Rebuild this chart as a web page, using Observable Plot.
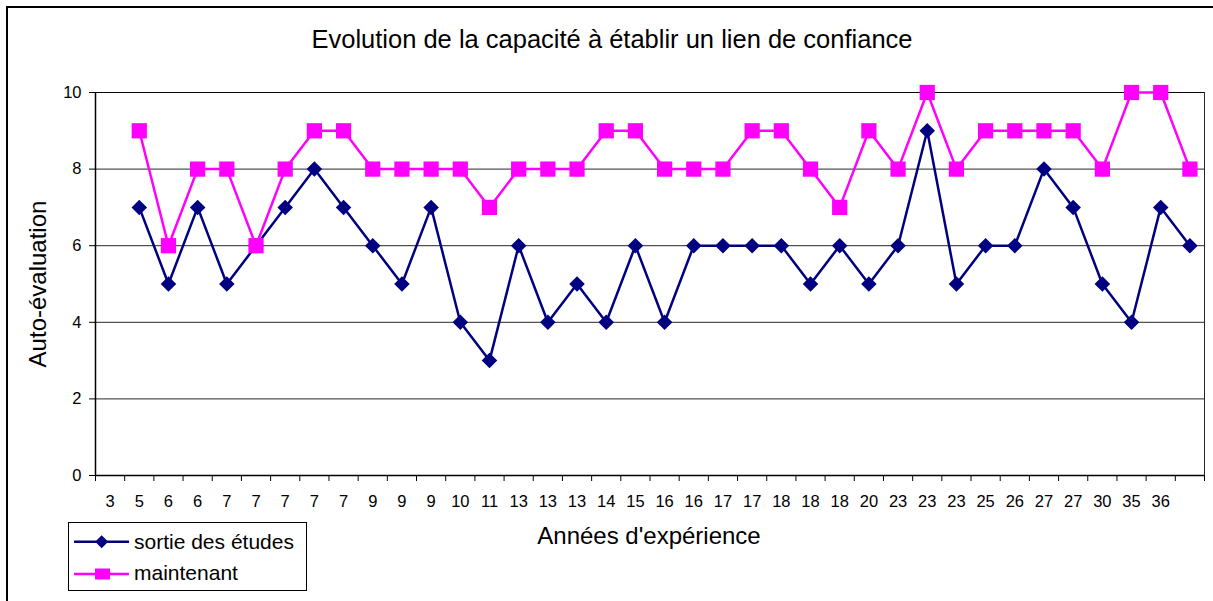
<!DOCTYPE html>
<html>
<head>
<meta charset="utf-8">
<script src="https://cdn.jsdelivr.net/npm/d3@7"></script>
<script src="https://cdn.jsdelivr.net/npm/@observablehq/plot@0.6"></script>
<style>
html, body { margin: 0; padding: 0; background: #fff; overflow: hidden; }
#wrap { position: relative; width: 1213px; height: 601px; font-family: "Liberation Sans", Arial, sans-serif; color: #000; }
#chart { position: absolute; left: 0; top: 0; }
#frame { position: absolute; left: 6px; top: 6px; width: 1220px; height: 610px; border: 2px solid #000; box-sizing: border-box; pointer-events: none; }
#title { position: absolute; left: 0; top: 26.5px; width: 1224px; text-align: center; font-size: 25.5px; line-height: 25.5px; white-space: nowrap; }
#xlabel { position: absolute; left: 0; top: 524px; width: 1298px; text-align: center; font-size: 24px; line-height: 24px; white-space: nowrap; }
#ylabel { position: absolute; left: -112px; top: 271.5px; width: 300px; height: 24px; text-align: center; font-size: 24px; line-height: 24px; white-space: nowrap; transform: rotate(-90deg); }
#legendbox { position: absolute; left: 68px; top: 522px; width: 239px; height: 69px; border: 1px solid #000; box-sizing: border-box; background: #fff; }
.legtxt { position: absolute; left: 134px; font-size: 21px; line-height: 21px; white-space: nowrap; }
#legsvg { position: absolute; left: 0; top: 0; }
</style>
</head>
<body>
<div id="wrap">
  <div id="chart"></div>
  <div id="title">Evolution de la capacité à établir un lien de confiance</div>
  <div id="ylabel">Auto-évaluation</div>
  <div id="xlabel">Années d'expérience</div>
  <div id="legendbox"></div>
  <svg id="legsvg" width="1213" height="601"></svg>
  <div class="legtxt" id="leg1" style="top:530.5px"></div>
  <div class="legtxt" id="leg2" style="top:562.2px"></div>
  <div id="frame"></div>
</div>
<script>
// Category labels (years of experience); the last category has no label
const xLabels = ["3","5","6","6","7","7","7","7","7","9","9","9","10","11","13","13","13","14","15","16","16","17","17","18","18","18","20","23","23","23","25","26","27","27","30","35","36",""];
// Series values per category (first category empty)
const sortie = [null,7,5,7,5,6,7,8,7,6,5,7,4,3,6,4,5,4,6,4,6,6,6,6,5,6,5,6,9,5,6,6,8,7,5,4,7,6];
const maintenant = [null,9,6,8,8,6,8,9,9,8,8,8,8,7,8,8,8,9,9,8,8,8,9,9,8,7,9,8,10,8,9,9,9,9,8,10,10,8];
const seriesNames = ["sortie des études", "maintenant"];
const seriesColors = ["#000080", "#FF00FF"];
const yTicks = [0, 2, 4, 6, 8, 10];

const toRows = arr => arr.map((v, i) => ({i, v})).filter(d => d.v != null);
const rowsA = toRows(sortie);
const rowsB = toRows(maintenant);
const n = xLabels.length;

const chart = Plot.plot({
  width: 1213,
  height: 601,
  marginLeft: 95,
  marginRight: 9,
  marginTop: 92,
  marginBottom: 126,
  style: {background: "transparent", fontFamily: "'Liberation Sans', Arial, sans-serif", color: "#000"},
  x: {type: "linear", domain: [-0.5, n - 0.5]},
  y: {type: "linear", domain: [0, 10]},
  marks: [
    Plot.gridY(yTicks.filter(v => v > 0), {stroke: "#000", strokeOpacity: 0.85, strokeWidth: 1}),
    Plot.frame({stroke: "#000", strokeOpacity: 0.85}),
    Plot.axisY(yTicks, {tickSize: 6, tickPadding: 8, fontSize: 16.5, label: null, tickFormat: d => String(d)}),
    Plot.axisX(d3.range(n + 1).map(k => k - 0.5), {tickSize: 6, tickFormat: () => "", label: null}),
    Plot.axisX(d3.range(n), {tickSize: 0, tickPadding: 20, fontSize: 16.5, label: null, tickFormat: i => xLabels[i]}),
    Plot.ruleY([0], {stroke: "#000", strokeWidth: 1.5}),
    Plot.ruleX([-0.5], {stroke: "#000", strokeWidth: 1.5}),
    Plot.line(rowsA, {x: "i", y: "v", stroke: seriesColors[0], strokeWidth: 2.5}),
    Plot.dot(rowsA, {x: "i", y: "v", symbol: "diamond2", r: 7, fill: seriesColors[0], stroke: "none"}),
    Plot.line(rowsB, {x: "i", y: "v", stroke: seriesColors[1], strokeWidth: 2.5}),
    Plot.dot(rowsB, {x: "i", y: "v", symbol: "square", r: 8.6, fill: seriesColors[1], stroke: "none"})
  ]
});
document.getElementById("chart").appendChild(chart);

// Legend
document.getElementById("leg1").textContent = seriesNames[0];
document.getElementById("leg2").textContent = seriesNames[1];
const ls = d3.select("#legsvg");
ls.append("line").attr("x1", 74).attr("x2", 129).attr("y1", 541.7).attr("y2", 541.7).attr("stroke", seriesColors[0]).attr("stroke-width", 2.5);
ls.append("path").attr("d", "M101.7,535.2L108.2,541.7L101.7,548.2L95.2,541.7Z").attr("fill", seriesColors[0]);
ls.append("line").attr("x1", 74).attr("x2", 129).attr("y1", 574).attr("y2", 574).attr("stroke", seriesColors[1]).attr("stroke-width", 2.5);
ls.append("rect").attr("x", 95).attr("y", 568.5).attr("width", 15).attr("height", 11).attr("fill", seriesColors[1]);
</script>
</body>
</html>
